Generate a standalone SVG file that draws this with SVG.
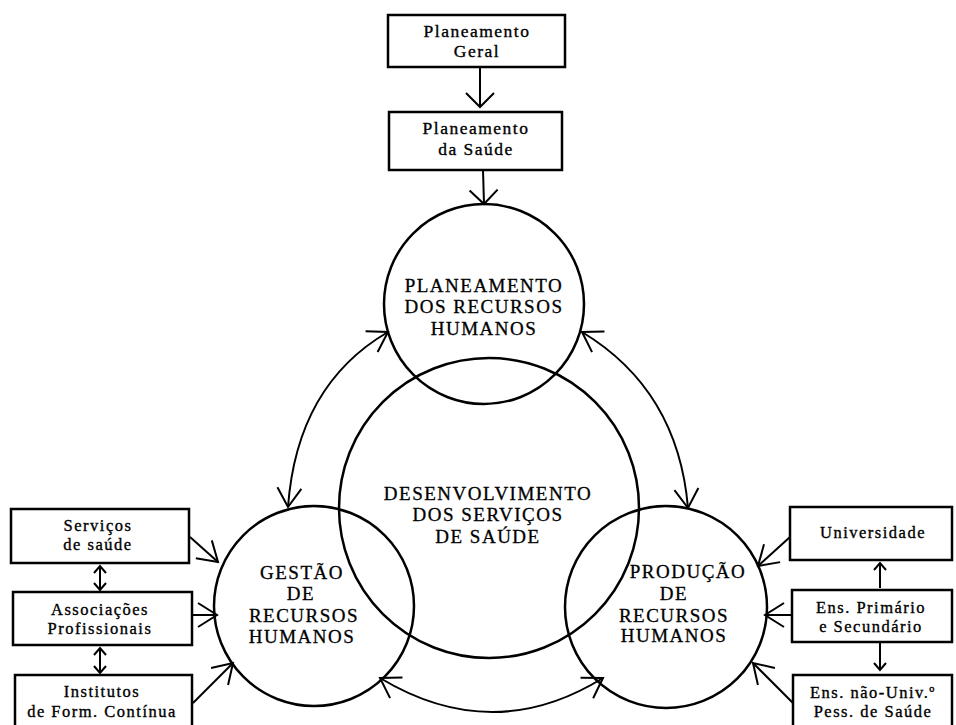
<svg xmlns="http://www.w3.org/2000/svg" width="956" height="725" viewBox="0 0 956 725">
  <style>
    .box { fill: #fff; stroke: #000; stroke-width: 2.5; }
    .circ { fill: none; stroke: #000; stroke-width: 2.5; }
    .lbl { font-family: "Liberation Serif", "Times New Roman", serif; font-size: 16.5px; letter-spacing: 1.5px; text-anchor: middle; fill: #000; stroke: #000; stroke-width: 0.35; }
    .big { font-family: "Liberation Serif", "Times New Roman", serif; font-size: 19px; letter-spacing: 1.5px; text-anchor: middle; fill: #000; stroke: #000; stroke-width: 0.3; }
    .con { fill: none; stroke: #000; stroke-width: 2; }
  </style>
  <defs>
    <marker id="v" viewBox="-22 -14 24 28" refX="0" refY="0" markerWidth="24" markerHeight="28" markerUnits="userSpaceOnUse" orient="auto-start-reverse">
      <path d="M-19,-12 L0,0 L-19,12" fill="none" stroke="#000" stroke-width="2"/>
    </marker>
    <marker id="vw" viewBox="-18 -16 20 32" refX="0" refY="0" markerWidth="20" markerHeight="32" markerUnits="userSpaceOnUse" orient="auto-start-reverse">
      <path d="M-14,-14 L0,0 L-14,14" fill="none" stroke="#000" stroke-width="2"/>
    </marker>
    <marker id="vs" viewBox="-10 -8 12 16" refX="0" refY="0" markerWidth="12" markerHeight="16" markerUnits="userSpaceOnUse" orient="auto-start-reverse">
      <path d="M-7,-6 L0,0 L-7,6" fill="none" stroke="#000" stroke-width="2"/>
    </marker>
  </defs>

  <!-- circles -->
  <g id="planeamento-rh">
    <circle class="circ" cx="484" cy="304" r="100"/>
    <text class="big" x="484" y="292">PLANEAMENTO</text>
    <text class="big" x="484" y="313">DOS RECURSOS</text>
    <text class="big" x="484" y="335">HUMANOS</text>
  </g>
  <g id="desenvolvimento">
    <circle class="circ" cx="489" cy="508" r="150"/>
    <text class="big" x="488" y="500">DESENVOLVIMENTO</text>
    <text class="big" x="488" y="521">DOS SERVIÇOS</text>
    <text class="big" x="488" y="543">DE SAÚDE</text>
  </g>
  <g id="gestao">
    <circle class="circ" cx="314" cy="606" r="100"/>
    <text class="big" x="302" y="579">GESTÃO</text>
    <text class="big" x="301" y="600">DE</text>
    <text class="big" x="304" y="622">RECURSOS</text>
    <text class="big" x="302" y="643">HUMANOS</text>
  </g>
  <g id="producao">
    <circle class="circ" cx="666" cy="607" r="101"/>
    <text class="big" x="688" y="578">PRODUÇÃO</text>
    <text class="big" x="674" y="600">DE</text>
    <text class="big" x="674" y="622">RECURSOS</text>
    <text class="big" x="674" y="642">HUMANOS</text>
  </g>

  <!-- boxes -->
  <g id="planeamento-geral">
    <rect class="box" x="388" y="15" width="177" height="52"/>
    <text class="lbl" x="477" y="37" style="font-size:17.5px">Planeamento</text>
    <text class="lbl" x="477" y="57" style="font-size:17.5px">Geral</text>
  </g>
  <g id="planeamento-saude">
    <rect class="box" x="389" y="112" width="173" height="58"/>
    <text class="lbl" x="476" y="134" style="font-size:17.5px">Planeamento</text>
    <text class="lbl" x="476" y="155" style="font-size:17.5px">da Saúde</text>
  </g>
  <g id="servicos">
    <rect class="box" x="11" y="509" width="178" height="54"/>
    <text class="lbl" x="98" y="531">Serviços</text>
    <text class="lbl" x="98" y="550">de saúde</text>
  </g>
  <g id="associacoes">
    <rect class="box" x="13" y="592" width="179" height="53"/>
    <text class="lbl" x="100" y="615">Associações</text>
    <text class="lbl" x="100" y="634">Profissionais</text>
  </g>
  <g id="institutos">
    <rect class="box" x="15" y="675" width="177" height="70"/>
    <text class="lbl" x="102" y="697">Institutos</text>
    <text class="lbl" x="102" y="717">de Form. Contínua</text>
  </g>
  <g id="universidade">
    <rect class="box" x="790" y="507" width="162" height="53"/>
    <text class="lbl" x="873" y="538">Universidade</text>
  </g>
  <g id="ens-primario">
    <rect class="box" x="792" y="590" width="160" height="52"/>
    <text class="lbl" x="871" y="613">Ens. Primário</text>
    <text class="lbl" x="871" y="632">e Secundário</text>
  </g>
  <g id="ens-nao-univ">
    <rect class="box" x="793" y="675" width="159" height="70"/>
    <text class="lbl" x="873" y="698">Ens. não-Univ.º</text>
    <text class="lbl" x="873" y="717">Pess. de Saúde</text>
  </g>

  <!-- connectors -->
  <g id="connectors">
    <path class="con" d="M480,67 L480,107" marker-end="url(#vw)"/>
    <path class="con" d="M483,170 L484,204" marker-end="url(#vw)"/>

    <path class="con" d="M288,507 Q297,385 388,332" marker-start="url(#v)" marker-end="url(#v)"/>
    <path class="con" d="M582,332 Q678,390 688,508" marker-start="url(#v)" marker-end="url(#v)"/>
    <path class="con" d="M380,678 Q493,746 603,678" marker-start="url(#v)" marker-end="url(#v)"/>

    <path class="con" d="M190,537 L218,562" marker-end="url(#v)"/>
    <path class="con" d="M192,615 L217,615" marker-end="url(#v)"/>
    <path class="con" d="M193,703 L233,663" marker-end="url(#v)"/>
    <path class="con" d="M100,566 L100,590" marker-start="url(#vs)" marker-end="url(#vs)"/>
    <path class="con" d="M100,648 L100,673" marker-start="url(#vs)" marker-end="url(#vs)"/>

    <path class="con" d="M790,537 L758,566" marker-end="url(#v)"/>
    <path class="con" d="M792,615 L765,615" marker-end="url(#v)"/>
    <path class="con" d="M793,703 L753,663" marker-end="url(#v)"/>
    <path class="con" d="M880,588 L880,563" marker-end="url(#vs)"/>
    <path class="con" d="M880,643 L880,670" marker-end="url(#vs)"/>
  </g>
</svg>
